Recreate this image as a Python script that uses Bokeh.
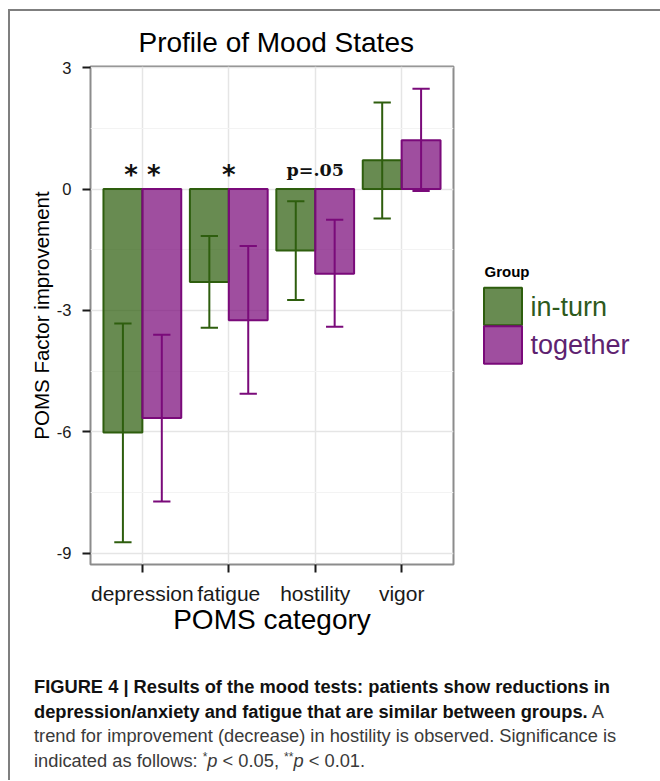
from bokeh.plotting import figure
from bokeh.models import (FactorRange, FixedTicker, Div, ColumnDataSource, Range1d)
from bokeh.transform import dodge
from bokeh.layouts import column, row
from bokeh.embed import file_html
from bokeh.resources import INLINE
from bokeh.core.properties import value

# ---------------- data ----------------
categories = ["depression", "fatigue", "hostility", "vigor"]
groups = ["in-turn", "together"]
in_turn_mean = [-6.02, -2.30, -1.52, 0.71]
in_turn_lower = [-8.73, -3.43, -2.74, -0.73]
in_turn_upper = [-3.32, -1.16, -0.30, 2.14]
together_mean = [-5.66, -3.24, -2.09, 1.21]
together_lower = [-7.72, -5.06, -3.40, -0.05]
together_upper = [-3.60, -1.41, -0.76, 2.48]
sig_labels = ["* *", "*", "p=.05", ""]
y_ticks = [-9, -6, -3, 0, 3]

GREEN = "#2E5E0E"
PURPLE = "#7A0A7A"
GROUP_COLORS = [GREEN, PURPLE]
LABEL_COLORS = ["#2E5A1C", "#5E2270"]
FONT = "Liberation Sans"

BORDER_TOP = 55
BORDER_BOTTOM = 81
FIG_H = 634

p = figure(
    x_range=FactorRange(factors=categories, range_padding=0.1,
                        range_padding_units="absolute"),
    y_range=(-9.28, 3.03),
    width=460, height=FIG_H,
    output_backend="svg", toolbar_location=None,
    min_border_left=80, min_border_right=17,
    min_border_top=BORDER_TOP, min_border_bottom=BORDER_BOTTOM,
)

offsets = {"in-turn": -0.225, "together": 0.225}
series = {
    "in-turn": (in_turn_mean, in_turn_lower, in_turn_upper, GREEN),
    "together": (together_mean, together_lower, together_upper, PURPLE),
}

sources = {}
for g in groups:
    mean, lo, hi, col = series[g]
    sources[g] = ColumnDataSource(dict(cat=categories, mean=mean, lo=lo, hi=hi))
    off = offsets[g]
    p.vbar(x=dodge("cat", off, range=p.x_range), top="mean", bottom=0,
           width=0.45, source=sources[g], fill_color=col, fill_alpha=0.72,
           line_color=col, line_width=2)
for g in groups:
    col = series[g][3]
    src = sources[g]
    off = offsets[g]
    p.segment(x0=dodge("cat", off, range=p.x_range), y0="lo",
              x1=dodge("cat", off, range=p.x_range), y1="hi",
              source=src, line_color=col, line_width=2)
    for end in ("lo", "hi"):
        p.segment(x0=dodge("cat", off - 0.1, range=p.x_range), y0=end,
                  x1=dodge("cat", off + 0.1, range=p.x_range), y1=end,
                  source=src, line_color=col, line_width=2)

# significance markers
star_src = ColumnDataSource(dict(
    cat=[c for c, s in zip(categories, sig_labels) if s.startswith("*")],
    lab=[s for s in sig_labels if s.startswith("*")]))
p_src = ColumnDataSource(dict(
    cat=[c for c, s in zip(categories, sig_labels) if s and not s.startswith("*")],
    lab=[s for s in sig_labels if s and not s.startswith("*")]))
p.text(x="cat", y=0.34, text="lab", source=star_src, text_align="center",
       text_baseline="alphabetic", text_font=value("DejaVu Sans"),
       text_font_style="bold", text_font_size="26px", text_color="#111111")
p.text(x="cat", y=0.46, text="lab", source=p_src, text_align="center",
       text_baseline="alphabetic", text_font=value("DejaVu Serif"),
       text_font_style="bold", text_font_size="17.5px", text_color="#111111")

# axes & grid
p.outline_line_color = "#8c8c8c"
p.outline_line_width = 2

p.yaxis.ticker = FixedTicker(
    ticks=y_ticks,
    minor_ticks=[(a + b) / 2 for a, b in zip(y_ticks[:-1], y_ticks[1:])])
p.yaxis.major_label_overrides = {t: str(t) for t in y_ticks}
for ax in (p.xaxis[0], p.yaxis[0]):
    ax.axis_line_color = None
    ax.major_tick_line_color = "#1a1a1a"
    ax.major_tick_line_width = 2
    ax.major_tick_in = 0
    ax.major_tick_out = 8
    ax.minor_tick_line_color = None
    ax.major_label_text_font = FONT
    ax.major_label_text_color = "#1a1a1a"
    ax.axis_label_text_font = FONT
    ax.axis_label_text_font_style = "normal"
    ax.axis_label_text_color = "#000000"

p.yaxis.major_label_text_font_size = "16.5px"
p.yaxis.major_label_standoff = 11
p.yaxis.axis_label = "POMS Factor improvement"
p.yaxis.axis_label_text_font_size = "20.5px"
p.yaxis.axis_label_standoff = 1

p.xaxis.major_label_text_font_size = "21px"
p.xaxis.major_label_standoff = 9
p.xaxis.axis_label = "POMS category"
p.xaxis.axis_label_text_font_size = "28px"
p.xaxis.axis_label_standoff = -4

p.xgrid.grid_line_color = "#e5e5e5"
p.xgrid.grid_line_width = 1.5
p.ygrid.grid_line_color = "#e5e5e5"
p.ygrid.grid_line_width = 1.5
p.ygrid.minor_grid_line_color = "#f3f3f3"
p.ygrid.minor_grid_line_width = 1.2

# title
p.title.text = "Profile of Mood States"
p.title.text_font = FONT
p.title.text_font_size = "28px"
p.title.text_font_style = "normal"
p.title.text_color = "#000000"
p.title.align = "left"
p.title.offset = 48
p.title.standoff = 18

# ---------------- legend panel (its own small figure) ----------------
# its frame lines up with the main frame; y range in page pixels (top origin 11)
FRAME_TOP = 11 + BORDER_TOP
FRAME_BOTTOM = 11 + FIG_H - BORDER_BOTTOM
lg = figure(width=188, height=FIG_H, x_range=Range1d(470, 658),
            y_range=Range1d(FRAME_BOTTOM, FRAME_TOP),
            output_backend="svg", toolbar_location=None,
            min_border_left=0, min_border_right=0,
            min_border_top=BORDER_TOP, min_border_bottom=BORDER_BOTTOM,
            x_axis_location=None, y_axis_location=None)
lg.grid.visible = False
lg.outline_line_color = None
row_h = 38.5
leg_src = ColumnDataSource(dict(
    x=[502.5] * len(groups),
    y=[306 + i * row_h for i in range(len(groups))],
    lx=[530] * len(groups),
    label=groups, color=GROUP_COLORS, tcolor=LABEL_COLORS))
lg.rect(x="x", y="y", width=38, height=37.5, source=leg_src,
        fill_color="color", fill_alpha=0.72, line_color="color", line_width=2)
lg.text(x="lx", y="y", text="label", source=leg_src, text_color="tcolor",
        text_font=value(FONT), text_font_size="27px", text_baseline="middle")
lg.text(x=[484], y=[271], text=["Group"], text_font=value(FONT),
        text_font_style="bold", text_font_size="15px", text_baseline="middle",
        text_color="#000000")

caption = Div(
    text=(
        "<div style=\"font-family:'Liberation Sans',Arial,sans-serif;"
        "font-size:18.3px;line-height:24.5px;color:#3a3a3a;white-space:nowrap;"
        "padding-left:19px;padding-top:25px;\">"
        "<b style='color:#111'>FIGURE 4 | Results of the mood tests: patients show reductions in<br>"
        "depression/anxiety and fatigue that are similar between groups.</b> A<br>"
        "trend for improvement (decrease) in hostility is observed. Significance is<br>"
        "indicated as follows: <span style='position:relative;top:-0.45em;font-size:12px;line-height:0'>*</span>"
        "<i>p</i> &lt; 0.05, <span style='position:relative;top:-0.45em;font-size:12px;line-height:0'>**</span>"
        "<i>p</i> &lt; 0.01."
        "</div>"
    ),
    width=648, height=125,
)

layout = column(row(p, lg), caption,
                styles={"margin-top": "9px", "margin-left": "8px",
                        "border-top": "2px solid #7f7f7f",
                        "border-left": "2px solid #7f7f7f"})

open("out.html", "w").write(file_html(layout, INLINE))
